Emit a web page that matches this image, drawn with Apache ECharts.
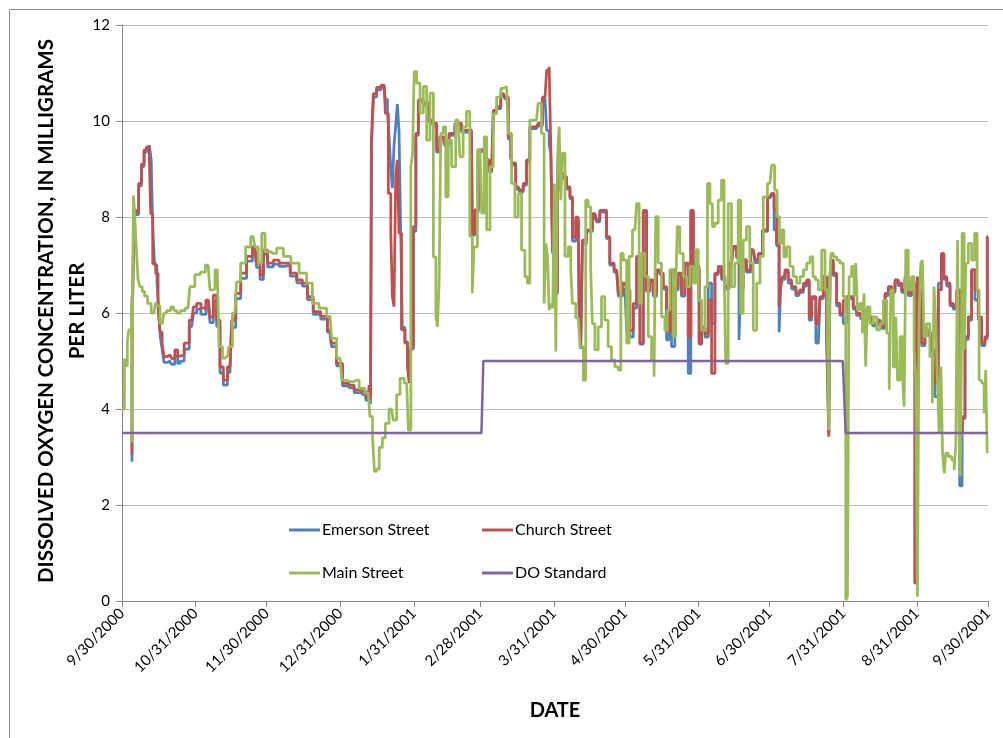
<!DOCTYPE html>
<html>
<head>
<meta charset="utf-8">
<script src="https://cdn.jsdelivr.net/npm/echarts@6/dist/echarts.min.js"></script>
<style>html,body{margin:0;padding:0;background:#fff}#c{width:1003px;height:738px}</style>
</head>
<body>
<div id="c"></div>
<script>
// ---- DATA (day offset from 9/30/2000, value mg/L) ----
const tickLabels = ['9/30/2000','10/31/2000','11/30/2000','12/31/2000','1/31/2001','2/28/2001','3/31/2001','4/30/2001','5/31/2001','6/30/2001','7/31/2001','8/31/2001','9/30/2001'];
const seriesNames = ['Emerson Street','Church Street','Main Street','DO Standard'];

const emersonStreet = [[4.2,2.9],[4.3,6.2],[4.8,6.4],[5.3,8.1],[6.5,8.05],[7.5,8.65],[8.9,9.05],[9.7,9.35],[11.0,9.45],[12.0,9.5],[12.6,9.2],[13.3,7.8],[14.2,7.0],[15.2,6.7],[15.8,6.0],[16.5,5.5],[17.3,5.25],[18.1,4.97],[20.2,5.0],[21.5,4.93],[23.0,5.1],[24.0,4.95],[25.1,5.0],[27.3,5.25],[29.4,5.72],[30.8,6.0],[32.2,6.08],[34.3,5.97],[36.4,6.15],[37.8,5.8],[39.2,6.25],[40.6,5.72],[42.0,4.75],[43.4,4.5],[45.5,4.76],[46.9,5.7],[49.0,6.3],[51.1,6.72],[53.9,7.08],[56.0,7.3],[57.5,6.95],[58.9,6.7],[60.3,7.22],[62.4,6.96],[65.2,7.02],[67.3,6.97],[69.5,6.98],[72.3,6.77],[75.0,6.63],[77.1,6.56],[79.2,6.28],[82.0,5.97],[85.5,5.87],[87.6,5.6],[89.0,5.3],[91.9,4.9],[94.0,4.48],[96.1,4.44],[99.6,4.34],[101.7,4.3],[103.8,4.18],[104.5,4.4],[105.0,4.1],[105.4,9.5],[106.6,10.5],[108.0,10.65],[110.5,10.7],[111.5,10.45],[112.3,10.2],[113.0,9.6],[113.6,9.0],[114.3,8.6],[115.0,9.5],[115.7,9.9],[116.4,10.35],[117.1,9.8],[117.8,7.75],[118.5,5.7],[120.0,5.4],[120.7,4.95],[121.4,4.6],[122.1,5.25],[123.5,7.7],[124.2,9.7],[125.6,10.4],[128.4,10.33],[130.5,9.98],[132.0,9.9],[133.3,9.35],[134.7,9.62],[136.8,9.5],[138.9,9.7],[141.7,9.9],[144.5,9.77],[147.3,9.77],[148.0,7.62],[149.4,8.1],[150.9,9.36],[152.3,9.36],[153.7,9.15],[155.8,8.94],[157.2,10.18],[158.6,10.26],[160.7,10.53],[162.1,10.46],[163.5,9.63],[164.2,9.22],[164.9,9.08],[167.0,8.58],[168.4,8.52],[169.8,8.66],[171.2,9.15],[172.6,9.84],[174.7,9.84],[176.1,9.9],[178.3,10.46],[179.7,9.8],[180.4,9.5],[181.1,9.3],[181.8,7.25],[183.2,6.4],[183.9,9.0],[184.6,8.55],[185.3,8.85],[186.7,8.8],[188.1,8.58],[189.5,8.38],[190.2,7.5],[192.3,7.95],[193.0,5.99],[193.7,5.25],[194.4,7.45],[197.2,7.7],[199.3,8.0],[200.7,7.9],[202.1,8.1],[203.5,8.1],[204.9,7.55],[206.3,7.0],[208.5,6.85],[209.9,6.35],[212.0,6.5],[213.4,5.6],[214.8,5.5],[216.2,6.1],[217.6,7.1],[219.0,5.35],[220.4,8.1],[221.8,6.45],[223.2,6.65],[224.6,6.35],[226.0,6.85],[227.4,6.8],[228.8,6.5],[230.2,5.44],[230.9,5.6],[232.3,5.3],[233.7,6.48],[235.1,6.8],[236.5,6.35],[237.9,7.0],[239.4,4.74],[240.1,8.1],[241.5,7.0],[242.9,6.9],[243.6,5.35],[245.0,5.7],[246.4,5.5],[247.8,6.62],[249.2,5.78],[250.6,6.8],[252.0,6.9],[253.4,6.7],[254.8,6.5],[256.9,7.0],[258.3,7.35],[259.7,7.15],[260.4,5.44],[261.1,6.5],[262.5,7.05],[263.9,6.85],[266.1,7.3],[267.5,7.05],[268.9,7.2],[271.0,7.7],[273.1,8.4],[274.5,8.45],[275.2,7.73],[276.6,7.4],[277.3,5.6],[278.0,6.55],[278.7,6.7],[280.1,6.85],[281.5,6.62],[283.0,6.5],[285.1,6.36],[286.5,6.43],[287.9,6.56],[289.3,6.62],[290.0,5.85],[291.4,6.3],[293.5,5.37],[294.9,6.3],[296.3,6.7],[297.7,5.45],[298.1,3.5],[298.7,6.75],[299.1,7.05],[300.5,6.78],[301.9,6.15],[303.3,5.95],[304.7,5.78],[306.1,6.3],[307.5,6.3],[308.9,6.08],[310.3,5.95],[312.4,5.88],[313.9,6.0],[315.3,5.88],[317.4,5.73],[319.5,5.8],[320.9,5.68],[322.3,6.36],[323.7,6.5],[325.1,6.43],[326.5,6.63],[327.9,6.57],[329.3,6.43],[330.7,6.7],[332.1,6.36],[333.5,6.57],[334.9,0.4],[335.6,6.7],[336.3,6.43],[337.7,5.32],[339.1,5.6],[340.5,5.52],[341.9,5.18],[343.3,4.26],[344.8,6.62],[345.9,7.2],[346.9,6.7],[348.3,6.56],[349.7,6.15],[351.1,6.08],[352.5,6.43],[353.6,2.4],[354.6,3.8],[356.0,5.45],[357.4,5.85],[358.8,6.9],[360.2,6.27],[361.6,5.86],[363.0,5.32],[364.4,5.46],[365.0,7.59]];

const churchStreet = [[4.2,3.05],[4.3,6.3],[4.8,6.5],[5.3,8.14],[6.5,8.1],[7.5,8.7],[8.9,9.1],[9.7,9.4],[11.0,9.46],[11.8,9.5],[12.4,8.07],[13.5,7.03],[14.9,6.83],[15.5,6.13],[16.5,5.6],[17.3,5.37],[18.1,5.09],[20.2,5.13],[21.5,5.05],[23.0,5.23],[24.0,5.1],[25.1,5.13],[27.3,5.37],[29.4,5.85],[30.8,6.13],[32.2,6.2],[34.3,6.1],[36.4,6.27],[37.8,5.92],[39.2,6.37],[40.6,5.85],[42.0,4.88],[43.4,4.6],[45.5,4.88],[46.9,5.85],[49.0,6.41],[51.1,6.83],[53.9,7.18],[56.0,7.38],[57.5,7.04],[58.9,6.79],[60.3,7.31],[62.4,7.04],[65.2,7.1],[67.3,7.04],[69.5,7.04],[72.3,6.83],[75.0,6.69],[77.1,6.62],[79.2,6.34],[82.0,6.03],[85.5,5.93],[87.6,5.65],[89.0,5.37],[91.9,4.95],[94.0,4.54],[96.1,4.5],[99.6,4.4],[101.7,4.36],[103.8,4.26],[104.5,4.5],[105.0,4.2],[105.2,9.6],[106.6,10.57],[108.0,10.7],[110.5,10.75],[111.5,10.16],[113.0,8.49],[113.6,7.66],[114.3,6.34],[115.0,6.13],[115.7,8.84],[116.4,9.19],[117.1,7.66],[118.5,5.65],[120.0,5.37],[120.7,4.88],[121.4,4.54],[122.1,5.3],[123.5,7.8],[124.2,9.74],[125.6,10.44],[128.4,10.37],[130.5,10.02],[132.0,9.95],[133.3,9.4],[134.7,9.67],[136.8,9.54],[138.9,9.74],[141.7,9.95],[144.5,9.81],[147.3,9.81],[148.0,7.66],[149.4,8.15],[150.9,9.4],[152.3,9.4],[153.7,9.19],[155.8,8.98],[157.2,10.22],[158.6,10.3],[160.7,10.57],[162.1,10.5],[163.5,9.67],[164.2,9.26],[164.9,9.12],[167.0,8.63],[168.4,8.56],[169.8,8.7],[171.2,9.19],[172.6,9.88],[174.7,9.88],[176.1,9.95],[178.3,10.5],[179.7,11.06],[180.4,11.13],[181.1,9.4],[181.8,7.31],[183.2,6.48],[183.9,9.12],[184.6,8.6],[185.3,8.9],[186.7,8.84],[188.1,8.63],[189.5,8.42],[190.2,7.59],[192.3,8.0],[193.0,6.2],[193.7,5.3],[194.4,7.52],[197.2,7.73],[199.3,8.07],[200.7,7.94],[202.1,8.14],[203.5,8.14],[204.9,7.59],[206.3,7.04],[208.5,6.9],[209.9,6.41],[212.0,6.62],[213.4,6.48],[214.8,5.64],[216.2,6.2],[217.6,7.18],[219.0,5.37],[220.4,8.14],[221.8,6.48],[223.2,6.69],[224.6,6.41],[226.0,6.9],[227.4,6.83],[228.8,6.55],[230.2,6.06],[230.9,5.64],[232.3,6.9],[233.7,6.55],[235.1,6.83],[236.5,6.41],[237.9,7.04],[239.4,5.51],[240.1,8.14],[241.5,7.04],[242.9,6.97],[243.6,5.37],[245.0,5.71],[246.4,5.57],[247.8,6.27],[249.2,4.74],[250.6,6.83],[252.0,6.97],[253.4,6.76],[254.8,6.55],[256.9,7.04],[258.3,7.39],[259.7,7.18],[261.1,6.55],[262.5,7.11],[263.9,6.9],[266.1,7.32],[267.5,7.11],[268.9,7.24],[271.0,7.73],[273.1,8.42],[274.5,8.49],[275.2,8.15],[276.6,7.45],[277.3,6.13],[278.0,6.62],[278.7,6.76],[280.1,6.9],[281.5,6.69],[283.0,6.55],[285.1,6.41],[286.5,6.48],[287.9,6.62],[289.3,6.69],[290.0,5.92],[291.4,6.34],[293.5,5.78],[294.9,6.34],[296.3,6.76],[297.7,5.51],[298.1,3.42],[298.7,6.8],[299.1,7.1],[300.5,6.83],[301.9,6.2],[303.3,5.99],[304.7,6.27],[306.1,6.34],[307.5,6.34],[308.9,6.13],[310.3,5.99],[312.4,5.92],[313.9,6.06],[315.3,5.92],[317.4,5.78],[319.5,5.85],[320.9,5.72],[322.3,6.41],[323.7,6.55],[325.1,6.48],[326.5,6.69],[327.9,6.62],[329.3,6.48],[330.7,6.76],[332.1,6.41],[333.5,6.62],[334.9,0.37],[335.6,6.76],[336.3,6.48],[337.7,5.37],[339.1,5.65],[340.5,5.58],[341.9,5.23],[343.3,4.54],[344.8,6.48],[345.9,7.24],[346.9,6.76],[348.3,6.62],[349.7,6.2],[351.1,6.13],[352.5,6.48],[353.9,3.5],[354.6,3.84],[356.0,5.51],[357.4,5.92],[358.8,6.9],[360.2,6.48],[361.6,5.92],[363.0,5.37],[364.4,5.51],[365.0,7.59]];

const mainStreet = [[0,4.0],[1.0,4.0],[1.1,5.05],[1.6,4.9],[2.0,4.9],[2.5,5.4],[3.2,5.65],[3.9,5.65],[4.2,6.2],[4.3,3.3],[4.6,6.5],[5.1,8.45],[5.7,8.0],[6.5,7.3],[7.0,6.7],[8.0,6.55],[9.0,6.45],[10.0,6.35],[11.5,6.2],[13.1,6.0],[14.0,6.05],[14.5,6.22],[15.3,6.15],[16.7,5.78],[17.3,5.8],[18.0,6.0],[19.5,6.05],[21.6,6.13],[22.5,6.05],[23.7,6.0],[25.5,6.05],[27.8,6.1],[29.4,6.55],[32.0,6.8],[34.0,6.85],[36.3,7.0],[37.8,6.48],[38.5,6.5],[39.9,6.9],[40.5,6.8],[41.3,5.3],[43.4,5.06],[44.5,5.1],[45.5,5.3],[47.6,6.0],[49.0,6.65],[51.0,7.04],[53.2,7.38],[55.3,7.59],[56.7,7.38],[58.2,7.04],[59.6,7.66],[61.0,7.28],[63.8,7.24],[66.6,7.35],[69.4,7.18],[72.9,7.04],[76.4,6.83],[79.2,6.62],[81.3,6.2],[84.8,6.1],[87.7,5.93],[89.0,5.47],[91.9,5.06],[93.3,4.6],[96.1,4.57],[98.9,4.6],[101.0,4.43],[103.8,4.33],[105.2,3.84],[106.0,3.4],[106.8,2.7],[107.8,2.75],[109.0,3.2],[110.5,3.4],[111.5,3.7],[113.6,4.0],[115.0,3.77],[116.5,4.3],[117.9,4.64],[120.0,4.54],[121.4,3.56],[122.1,9.05],[122.8,9.3],[123.5,11.03],[124.9,10.79],[126.3,10.17],[127.7,10.72],[129.1,9.6],[130.5,10.58],[132.0,7.17],[132.6,5.92],[133.3,5.71],[134.0,6.62],[134.7,9.74],[136.1,9.88],[136.8,8.42],[138.2,9.6],[139.6,9.05],[141.7,10.02],[143.1,9.26],[144.5,9.88],[145.9,10.2],[147.3,7.6],[148.0,6.41],[148.7,7.38],[150.9,9.4],[152.3,8.08],[153.0,9.67],[154.4,7.73],[155.8,9.05],[157.2,10.15],[158.6,10.5],[160.7,10.68],[162.1,10.72],[163.5,9.74],[164.9,8.7],[166.3,8.0],[167.7,8.49],[169.1,7.31],[170.5,6.76],[171.2,6.62],[172.6,10.02],[174.7,10.02],[176.1,10.37],[177.5,9.74],[178.3,6.2],[179.0,7.45],[179.7,7.18],[180.4,6.06],[181.1,6.2],[182.0,6.1],[182.5,8.7],[183.2,5.2],[183.9,9.19],[184.6,9.88],[185.3,8.35],[186.0,9.33],[187.4,7.18],[188.8,7.38],[189.5,6.9],[190.2,6.2],[192.3,5.9],[193.8,5.3],[195.1,4.6],[195.8,8.35],[197.2,8.21],[197.9,6.9],[198.6,5.78],[200.0,5.23],[201.4,5.71],[202.8,6.34],[204.2,5.85],[205.6,5.3],[207.0,5.02],[208.5,4.88],[209.9,4.81],[210.6,7.24],[212.0,7.1],[213.4,5.37],[214.1,7.18],[216.2,7.73],[217.6,8.28],[218.3,6.2],[219.7,7.24],[221.1,6.76],[222.5,5.51],[223.9,5.02],[224.6,4.67],[225.3,8.01],[226.7,7.04],[228.1,5.92],[229.5,5.64],[230.2,6.06],[231.6,6.9],[233.0,5.51],[233.7,6.48],[234.4,7.8],[235.8,7.24],[237.3,6.76],[238.7,6.55],[240.1,6.97],[241.5,6.62],[242.2,7.32],[243.6,6.27],[245.0,5.64],[246.4,6.55],[247.1,8.7],[248.5,8.28],[249.2,7.8],[250.6,7.87],[252.0,8.35],[253.4,8.77],[254.1,7.04],[254.8,4.95],[256.2,8.28],[257.6,6.55],[259.0,7.04],[260.4,8.35],[261.1,5.99],[262.5,7.52],[263.9,7.8],[265.3,7.04],[266.8,5.64],[268.2,6.62],[269.6,7.18],[271.0,8.42],[273.1,8.7],[274.5,9.08],[275.6,8.56],[276.6,8.01],[277.6,7.45],[278.5,7.73],[279.4,7.17],[280.8,7.38],[282.2,6.97],[283.6,6.76],[285.1,6.62],[286.5,6.76],[287.9,6.9],[289.3,7.04],[290.7,7.17],[291.7,6.76],[292.8,6.69],[294.2,6.48],[295.6,7.31],[297.0,6.48],[297.7,5.37],[298.1,3.56],[298.5,6.5],[299.1,7.24],[300.5,7.17],[301.9,7.1],[303.3,7.04],[304.7,6.34],[305.4,0.02],[306.1,0.09],[306.8,6.76],[308.2,6.97],[308.9,6.34],[309.6,7.04],[310.3,6.06],[311.7,6.2],[312.4,5.58],[313.1,6.41],[313.8,4.88],[314.5,6.13],[316.0,5.78],[317.4,5.92],[318.8,5.65],[320.2,5.78],[321.6,6.27],[323.0,5.58],[323.7,4.4],[324.4,6.48],[325.8,4.88],[326.5,5.92],[327.2,4.6],[328.6,5.51],[329.3,4.67],[330.0,4.05],[330.7,7.31],[332.1,6.48],[333.5,6.76],[334.2,5.23],[334.9,4.67],[335.6,0.09],[336.3,5.92],[337.0,7.04],[337.7,7.1],[338.4,5.51],[339.8,5.78],[341.2,5.09],[341.9,4.12],[342.6,6.55],[343.3,5.78],[344.0,4.67],[344.8,3.5],[345.5,4.88],[346.2,3.08],[346.9,2.66],[347.6,3.08],[349.0,3.01],[350.4,2.94],[351.1,2.73],[351.8,3.28],[352.5,7.52],[353.2,3.5],[353.6,2.6],[354.6,7.66],[355.3,5.23],[356.0,7.04],[357.4,7.45],[358.8,7.1],[359.9,7.66],[360.9,6.48],[361.6,4.6],[363.0,4.54],[363.7,3.91],[364.4,4.81],[364.9,3.08]];

const doStandard = [[0,3.5],[151.5,3.5],[152.3,5.0],[303.8,5.0],[305.0,3.5],[365,3.5]];

// ---- CHART ----
const FONT = 'Lato';
const colors = ['#4F81BD','#C0504D','#9BBB59','#8064A2'];
function dayOf(label){
  const p = label.split('/').map(Number);
  return Math.round((Date.UTC(p[2], p[0]-1, p[1]) - Date.UTC(2000, 8, 30)) / 86400000);
}
const tickDays = tickLabels.map(dayOf);
const labelByDay = {};
tickDays.forEach((d,i)=>{ labelByDay[d] = tickLabels[i]; });

const chart = echarts.init(document.getElementById('c'));
const dataSets = [emersonStreet, churchStreet, mainStreet, doStandard];
const legendPos = [[289,522],[482,522],[289,565],[482,565]];

chart.setOption({
  animation: false,
  backgroundColor: '#ffffff',
  color: colors,
  grid: {left:122, top:25, width:866, height:576, containLabel:false},
  xAxis: {
    type:'value', min:0, max:tickDays[tickDays.length-1],
    splitLine:{show:false},
    axisLine:{lineStyle:{color:'#868686', width:1}},
    axisTick:{show:true, customValues:tickDays, length:6, lineStyle:{color:'#868686'}},
    axisLabel:{customValues:tickDays, rotate:45, margin:10, fontSize:15, fontFamily:FONT, color:'#000',
      formatter:function(v){ return labelByDay[v] || ''; }},
    name:'DATE', nameLocation:'middle', nameGap:100,
    nameTextStyle:{fontSize:20, fontWeight:'bold', fontFamily:FONT, color:'#000'}
  },
  yAxis: {
    type:'value', min:0, max:12, interval:2,
    axisLine:{show:true, lineStyle:{color:'#868686', width:1}},
    axisTick:{show:true, length:6, lineStyle:{color:'#868686'}},
    splitLine:{lineStyle:{color:'#bdbdbd', width:1}},
    axisLabel:{fontSize:15, fontFamily:FONT, color:'#000', margin:12}
  },
  legend: seriesNames.map((n,i)=>({
    data:[n], left:legendPos[i][0], top:legendPos[i][1], orient:'horizontal',
    icon:'rect', itemWidth:31, itemHeight:3, itemGap:0, padding:0, selectedMode:false,
    textStyle:{fontSize:16, fontFamily:FONT, color:'#000', padding:[0,0,0,-3]}
  })),
  series: seriesNames.map((n,i)=>({
    name:n, type:'line', data:dataSets[i], showSymbol:false, symbol:'none',
    step: i===3 ? false : 'middle',
    lineStyle:{width: i===3 ? 2.5 : 2.75, color:colors[i]},
    itemStyle:{color:colors[i]},
    emphasis:{disabled:true}, silent:true
  })),
  graphic: [
    {type:'rect', left:7, top:7, shape:{x:0,y:0,width:1100,height:900},
     style:{fill:'none', stroke:'#8c8c8c', lineWidth:1}, silent:true, z:-1},
    {type:'text', x:46, y:311, rotation:Math.PI/2,
     style:{text:'DISSOLVED OXYGEN CONCENTRATION, IN MILLIGRAMS', fontSize:20.5, fontWeight:'bold', fontFamily:FONT, fill:'#000', align:'center', verticalAlign:'middle'}},
    {type:'text', x:77, y:311, rotation:Math.PI/2,
     style:{text:'PER LITER', fontSize:20.5, fontWeight:'bold', fontFamily:FONT, fill:'#000', align:'center', verticalAlign:'middle'}}
  ]
});
</script>
</body>
</html>
